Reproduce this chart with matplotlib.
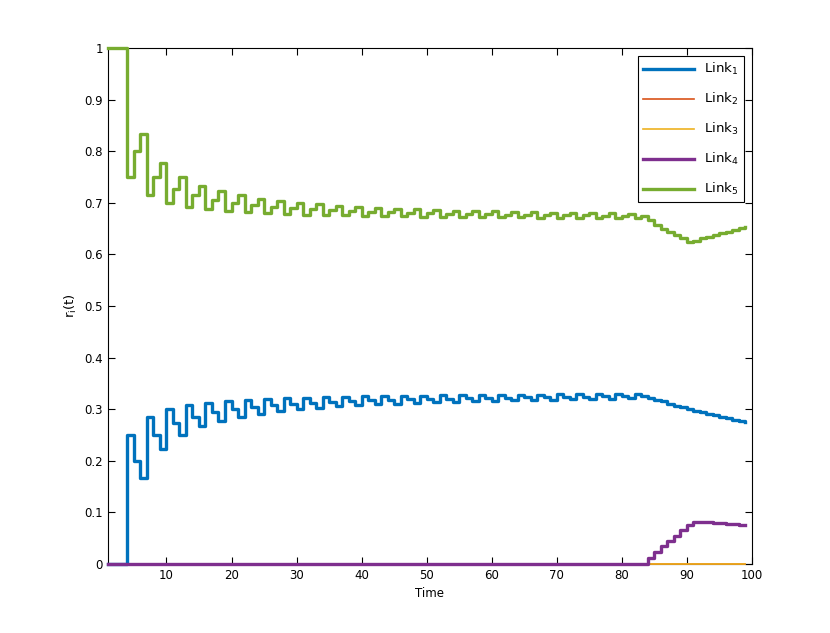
import numpy as np
import matplotlib
matplotlib.use("Agg")
import matplotlib.pyplot as plt

# time steps 1..99, values held until the next step (stairs)
time = list(range(1, 100))

link1 = [0, 0, 0,
         0.25, 0.2, 0.1667, 0.2857, 0.25, 0.2222, 0.3, 0.2727, 0.25, 0.3077,
         0.2857, 0.2667, 0.3125, 0.2941, 0.2778, 0.3158, 0.3, 0.2857, 0.3182,
         0.3043, 0.2917, 0.32, 0.3077, 0.2963, 0.3214, 0.3103, 0.3, 0.3226,
         0.3125, 0.303, 0.3235, 0.3143, 0.3056, 0.3243, 0.3158, 0.3077, 0.325,
         0.3171, 0.3095, 0.3256, 0.3182, 0.3111, 0.3261, 0.3191, 0.3125, 0.3265,
         0.32, 0.3137, 0.3269, 0.3208, 0.3148, 0.3273, 0.3214, 0.3158, 0.3276,
         0.322, 0.3167, 0.3279, 0.3226, 0.3175, 0.3281, 0.3231, 0.3182, 0.3284,
         0.3235, 0.3188, 0.3286, 0.3239, 0.3194, 0.3288, 0.3243, 0.32, 0.3289,
         0.3247, 0.3205, 0.3291, 0.325, 0.321, 0.3293, 0.3253,
         0.321, 0.318, 0.315, 0.311, 0.307, 0.304, 0.300, 0.297, 0.294, 0.291,
         0.288, 0.285, 0.283, 0.280, 0.278, 0.275]

link2 = [0.0] * 99
link3 = [0.0] * 99

link4 = [0.0] * 83 + [0.012, 0.024, 0.035, 0.045, 0.055, 0.065, 0.075, 0.082,
                      0.082, 0.081, 0.080, 0.079, 0.078, 0.077, 0.076, 0.075]

link5 = [1, 1, 1,
         0.75, 0.8, 0.8333, 0.7143, 0.75, 0.7778, 0.7, 0.7273, 0.75, 0.6923,
         0.7143, 0.7333, 0.6875, 0.7059, 0.7222, 0.6842, 0.7, 0.7143, 0.6818,
         0.6957, 0.7083, 0.68, 0.6923, 0.7037, 0.6786, 0.6897, 0.7, 0.6774,
         0.6875, 0.697, 0.6765, 0.6857, 0.6944, 0.6757, 0.6842, 0.6923, 0.675,
         0.6829, 0.6905, 0.6744, 0.6818, 0.6889, 0.6739, 0.6809, 0.6875, 0.6735,
         0.68, 0.6863, 0.6731, 0.6792, 0.6852, 0.6727, 0.6786, 0.6842, 0.6724,
         0.678, 0.6833, 0.6721, 0.6774, 0.6825, 0.6719, 0.6769, 0.6818, 0.6716,
         0.6765, 0.6812, 0.6714, 0.6761, 0.6806, 0.6712, 0.6757, 0.68, 0.6711,
         0.6753, 0.6795, 0.6709, 0.675, 0.679, 0.6707, 0.6747,
         0.667, 0.658, 0.650, 0.644, 0.638, 0.631, 0.624, 0.627, 0.631, 0.634,
         0.637, 0.641, 0.644, 0.647, 0.651, 0.654]

series = [link1, link2, link3, link4, link5]
labels = ["Link$_1$", "Link$_2$", "Link$_3$", "Link$_4$", "Link$_5$"]
colors = ["#0072BD", "#D95319", "#EDB120", "#7E2F8E", "#77AC30"]
widths = [2.4, 1.2, 1.2, 2.4, 2.4]

fig = plt.figure(figsize=(8.3, 6.33), dpi=100)
ax = fig.add_axes([0.13, 0.109, 0.776, 0.815])

for y, lab, c, w in zip(series, labels, colors, widths):
    ax.step(time, y, where="post", color=c, linewidth=w, label=lab,
            zorder=3, clip_on=False)

ax.set_xlim(1, 100)
ax.set_ylim(0, 1)
ax.set_xticks(range(10, 101, 10))
ax.set_yticks(np.arange(0, 1.01, 0.1))
ax.set_yticklabels(["0", "0.1", "0.2", "0.3", "0.4", "0.5", "0.6", "0.7",
                    "0.8", "0.9", "1"])
ax.tick_params(direction="in", top=True, right=True, length=5, width=0.8,
               labelsize=8.5)
for s in ax.spines.values():
    s.set_linewidth(0.8)

ax.set_xlabel("Time", fontsize=8.5)
ax.set_ylabel("r$_{\\mathrm{i}}$(t)", fontsize=9.5)

leg = ax.legend(loc="upper right", fontsize=9.5, handlelength=3.8,
                labelspacing=1.05, borderaxespad=0.6, fancybox=False,
                edgecolor="black", framealpha=1)
leg.get_frame().set_linewidth(0.8)
leg.set_zorder(5)

plt.savefig("out.png")
